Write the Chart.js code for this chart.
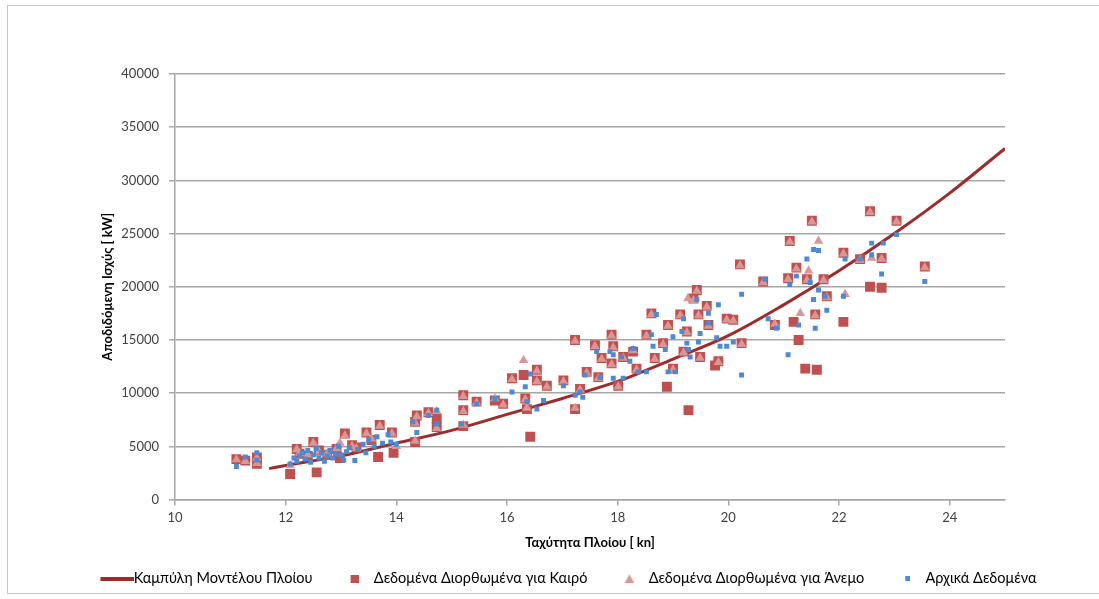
<!DOCTYPE html>
<html>
<head>
<meta charset="utf-8">
<script src="https://cdn.jsdelivr.net/npm/chart.js@4"></script>
<style>
  body { margin: 0; background: #fff; }
  #wrap { position: relative; width: 1099px; height: 599px; }
  #frame { position: absolute; left: 7px; top: 5px; width: 1100px; height: 587px; border: 1px solid #c4c4c4; border-right: none; pointer-events: none; }
  canvas { position: absolute; left: 0; top: 0; }
</style>
</head>
<body>
<div id="wrap">
  <canvas id="shipChart" width="1099" height="599"></canvas>
  <div id="frame"></div>
</div>
<script>
// model curve: speed [kn] -> power [kW]
const curveSpeed = [11.7, 12, 13, 14, 15, 16, 17, 18, 19, 20, 21, 22, 23, 24, 25];
const curvePower = [2900, 3200, 4100, 5300, 6500, 8000, 9500, 11100, 13200, 15400, 18300, 21500, 25000, 28800, 33000];

// weather corrected data
const weatherSpeed = [11.11, 11.27, 11.48, 11.48, 12.08, 12.2, 12.25, 12.4, 12.5, 12.56, 12.6, 12.75, 12.92, 12.98, 13.07, 13.2, 13.28, 13.46, 13.55, 13.7, 13.67, 13.92, 13.95,
  14.34, 14.34, 14.37, 14.58, 14.73, 14.73, 15.21, 15.21, 15.21, 15.45, 15.78, 15.93, 16.09, 16.3, 16.33, 16.36, 16.42, 16.54, 16.54, 16.72, 17.02, 17.23, 17.23, 17.32, 17.44,
  17.59, 17.65, 17.71, 17.89, 17.89, 17.92, 18.01, 18.1, 18.28, 18.34, 18.52, 18.61, 18.67, 18.82, 18.89, 18.91, 19.0, 19.13, 19.19, 19.25, 19.28, 19.37, 19.43, 19.46, 19.49,
  19.61, 19.64, 19.76, 19.82, 19.97, 20.09, 20.24, 20.21, 20.63, 20.84, 21.08, 21.11, 21.18, 21.23, 21.27, 21.39, 21.42, 21.51, 21.57, 21.6, 21.72, 21.78, 22.08, 22.08, 22.38,
  22.56, 22.56, 22.77, 22.77, 23.04, 23.55];
const weatherPower = [3800, 3650, 3950, 3350, 2400, 4750, 4300, 4100, 5400, 2550, 4600, 4200, 4750, 3900, 6200, 5100, 4900, 6300, 5600, 7000, 4000, 6300, 4400,
  7300, 5400, 7900, 8200, 7600, 6800, 9800, 8400, 6900, 9200, 9300, 9000, 11400, 11700, 9500, 8500, 5900, 11200, 12200, 10700, 11200, 8500, 15000, 10400, 12000,
  14500, 11500, 13300, 12800, 15500, 14400, 10700, 13400, 13900, 12300, 15500, 17500, 13300, 14700, 10600, 16400, 12300, 17400, 13900, 15800, 8400, 18900, 19700, 17400, 13400,
  18200, 16400, 12600, 13000, 17000, 16900, 14700, 22100, 20500, 16400, 20800, 24300, 16700, 21800, 15000, 12300, 20700, 26200, 17400, 12200, 20700, 19100, 23200, 16700, 22600,
  27100, 20000, 22700, 19900, 26200, 21900];

// wind corrected data
const windSpeed = [11.11, 11.27, 11.48, 11.48, 12.08, 12.2, 12.25, 12.4, 12.5, 12.6, 12.75, 12.92, 12.98, 13.07, 13.2, 13.28, 13.46, 13.55, 13.7, 13.92, 14.0,
  14.34, 14.34, 14.37, 14.58, 14.73, 14.73, 15.21, 15.21, 15.21, 15.45, 15.78, 15.93, 16.09, 16.3, 16.33, 16.36, 16.54, 16.54, 16.72, 17.02, 17.23, 17.23, 17.32, 17.44,
  17.59, 17.65, 17.71, 17.89, 17.89, 17.92, 18.01, 18.1, 18.28, 18.34, 18.52, 18.61, 18.67, 18.82, 18.91, 19.0, 19.13, 19.19, 19.25, 19.27, 19.37, 19.43, 19.46, 19.49,
  19.61, 19.64, 19.82, 19.97, 20.09, 20.24, 20.21, 20.63, 20.84, 21.08, 21.11, 21.23, 21.3, 21.42, 21.45, 21.51, 21.57, 21.63, 21.72, 21.78, 22.08, 22.11, 22.38,
  22.56, 22.59, 22.77, 23.04, 23.55];
const windPower = [3750, 3600, 3900, 3400, 3200, 4700, 4350, 4200, 5300, 4500, 4300, 4800, 5300, 6000, 5000, 4800, 6200, 5700, 6900, 6200, 5000,
  7200, 5500, 7800, 8100, 8300, 6700, 9700, 8300, 7000, 9100, 9500, 8900, 11300, 13100, 9400, 8600, 11100, 12100, 10600, 11100, 8600, 14900, 10300, 11900,
  14400, 11400, 13200, 12700, 15400, 14300, 10600, 13300, 14000, 12200, 15400, 17400, 13200, 14600, 16300, 12200, 17300, 13800, 15700, 18900, 18700, 19600, 17300, 13300,
  18100, 16300, 12900, 16900, 16800, 14600, 22000, 20400, 16500, 20700, 24200, 21700, 17500, 20600, 21500, 26100, 17300, 24300, 20600, 19000, 23100, 19300, 22500,
  27000, 22700, 22600, 26100, 21800];

// original data
const rawSpeed = [11.11, 11.27, 11.48, 11.48, 12.08, 12.15, 12.2, 12.25, 12.3, 12.35, 12.4, 12.45, 12.5, 12.55, 12.6, 12.65, 12.7, 12.75, 12.8, 12.85, 12.9, 12.95,
  13.0, 13.05, 13.1, 13.15, 13.25, 13.3, 13.4, 13.45, 13.5, 13.6, 13.65, 13.75, 13.85, 13.9, 14.0, 14.3, 14.37, 14.58, 14.73, 14.73, 15.18, 15.45, 15.78, 16.09,
  16.33, 16.36, 16.42, 16.54, 16.66, 17.02, 17.23, 17.32, 17.37, 17.41, 17.62, 17.68, 17.86, 17.92, 17.92, 18.07, 18.1, 18.22, 18.28, 18.37, 18.52, 18.61, 18.64,
  18.7, 18.86, 18.91, 19.0, 19.04, 19.16, 19.19, 19.25, 19.28, 19.31, 19.43, 19.46, 19.49, 19.64, 19.64, 19.79, 19.82, 19.85, 19.97, 20.09, 20.24, 20.24, 20.66,
  20.72, 20.87, 21.08, 21.11, 21.23, 21.27, 21.42, 21.48, 21.54, 21.54, 21.57, 21.63, 21.63, 21.75, 21.78, 22.08, 22.11, 22.38, 22.59, 22.59, 22.77, 22.8, 23.04, 23.55];
const rawPower = [3100, 4000, 4400, 3700, 3340, 3900, 3600, 4100, 4400, 3800, 4600, 3500, 4200, 4800, 3900, 4400, 3600, 4100, 4600, 3900, 4300, 5000,
  4200, 3700, 4500, 4900, 3660, 4700, 5200, 4400, 5600, 5000, 5900, 5300, 6100, 5400, 5200, 7300, 6300, 7900, 8400, 7100, 7100, 9000, 9500, 10100,
  10600, 9200, 11800, 8500, 9300, 10700, 9800, 10100, 9600, 11700, 13900, 11500, 13900, 11400, 13600, 13400, 11400, 13000, 14200, 12000, 12000, 15500, 14400,
  17400, 14100, 12000, 15300, 12000, 15800, 17000, 14700, 14100, 13400, 18800, 14800, 15600, 17500, 16600, 15200, 18300, 14400, 14400, 14800, 19300, 11700, 20700,
  17000, 16100, 13600, 20200, 21000, 16400, 22600, 20400, 23500, 18800, 16100, 23400, 19700, 19100, 17800, 19100, 22600, 22600, 24100, 23000, 21200, 24100, 24900, 20500];

const seriesNames = ['Καμπύλη Μοντέλου Πλοίου', 'Δεδομένα Διορθωμένα για Καιρό', 'Δεδομένα Διορθωμένα για Άνεμο', 'Αρχικά Δεδομένα'];
const xTicks = [10, 12, 14, 16, 18, 20, 22, 24];

const curveColor = '#9c2b2a';
const weatherColor = '#c0504d';
const windColor = '#d99694';
const rawColor = '#4a8ad6';

function pairs(xs, ys) {
    return xs.map((x, i) => ({ x: x, y: ys[i] }));
}

// legend markers: canvas centred on the legend box (box centre = 22px),
// marker drawn at the right end so it sits just before the text
const boxW = 44;
function marker(right, w, h, draw) {
    const half = right - boxW / 2;
    const c = document.createElement('canvas');
    c.width = Math.round(half * 2);
    c.height = h;
    const g = c.getContext('2d');
    g.translate(c.width - w, 0);
    draw(g);
    return c;
}
const lineMark = marker(52, 34, 4, g => { g.fillStyle = curveColor; g.fillRect(0, 0, 34, 4); });
const squareMark = marker(36, 8, 8, g => { g.fillStyle = weatherColor; g.fillRect(0, 0, 8, 8); });
const triMark = marker(37, 10, 9, g => {
    g.fillStyle = windColor;
    g.beginPath(); g.moveTo(5, 0); g.lineTo(10, 9); g.lineTo(0, 9); g.closePath(); g.fill();
});
const rawMark = marker(36, 5, 5, g => { g.fillStyle = rawColor; g.fillRect(0, 0, 5, 5); });
const legendMarks = [lineMark, squareMark, triMark, rawMark];

Chart.defaults.font.family = 'Lato, "Noto Sans", sans-serif';
Chart.defaults.font.size = 13;
Chart.defaults.color = '#404040';

const ctx = document.getElementById('shipChart').getContext('2d');
const shipChart = new Chart(ctx, {
    type: 'scatter',
    data: {
        datasets: [{
            label: seriesNames[0],
            data: pairs(curveSpeed, curvePower),
            showLine: true,
            borderColor: curveColor,
            backgroundColor: curveColor,
            borderWidth: 3,
            pointRadius: 0,
            cubicInterpolationMode: 'monotone',
            order: 4
        }, {
            label: seriesNames[1],
            data: pairs(weatherSpeed, weatherPower),
            pointStyle: 'rect',
            pointRadius: 7,
            backgroundColor: weatherColor,
            borderColor: weatherColor,
            borderWidth: 0,
            order: 3
        }, {
            label: seriesNames[2],
            data: pairs(windSpeed, windPower),
            pointStyle: 'triangle',
            pointRadius: 5.5,
            backgroundColor: windColor,
            borderColor: windColor,
            borderWidth: 0,
            order: 2
        }, {
            label: seriesNames[3],
            data: pairs(rawSpeed, rawPower),
            pointStyle: 'rect',
            pointRadius: 3.5,
            backgroundColor: rawColor,
            borderColor: rawColor,
            borderWidth: 0,
            order: 1
        }]
    },
    options: {
        responsive: false,
        animation: false,
        layout: { padding: { left: 50, right: 30, top: 74, bottom: 3 } },
        plugins: {
            tooltip: { enabled: false },
            legend: {
                position: 'bottom',
                labels: {
                    usePointStyle: true,
                    pointStyleWidth: boxW,
                    padding: 10,
                    color: '#262626',
                    font: { size: 14.5 },
                    generateLabels: chart => seriesNames.map((name, i) => ({
                        text: name,
                        pointStyle: legendMarks[i],
                        datasetIndex: i,
                        fillStyle: 'transparent',
                        strokeStyle: 'transparent',
                        lineWidth: 0,
                        hidden: false
                    }))
                }
            }
        },
        scales: {
            x: {
                type: 'linear',
                min: 10,
                max: 25,
                afterBuildTicks: scale => {
                    scale.ticks = xTicks.map(v => ({ value: v }));
                },
                afterFit: scale => { scale.height = 62; },
                ticks: { padding: 5, callback: v => v },
                grid: { drawOnChartArea: false, color: '#a6a6a6', lineWidth: 1.5, tickLength: 6 },
                border: { color: '#a6a6a6', width: 1.5 },
                title: {
                    display: true,
                    text: 'Ταχύτητα Πλοίου [ kn]',
                    color: '#000',
                    font: { weight: 'bold', size: 13 },
                    padding: { top: 0, bottom: 11 }
                }
            },
            y: {
                min: 0,
                max: 40000,
                ticks: { stepSize: 5000, padding: 10, callback: v => v },
                afterFit: scale => { scale.width = 125; },
                grid: { color: '#a6a6a6', lineWidth: 1.5, tickLength: 6 },
                border: { color: '#a6a6a6', width: 1.5 },
                title: {
                    display: true,
                    text: 'Αποδιδόμενη Ισχύς [ kW]',
                    color: '#000',
                    font: { weight: 'bold', size: 13 },
                    padding: { top: 50, bottom: 0 }
                }
            },
            // empty right-hand axis only reserves the space right of the plot
            spacer: {
                type: 'linear',
                position: 'right',
                display: true,
                afterFit: scale => { scale.width = 64; },
                ticks: { display: false },
                grid: { display: false },
                border: { display: false }
            }
        }
    }
});
</script>
</body>
</html>
